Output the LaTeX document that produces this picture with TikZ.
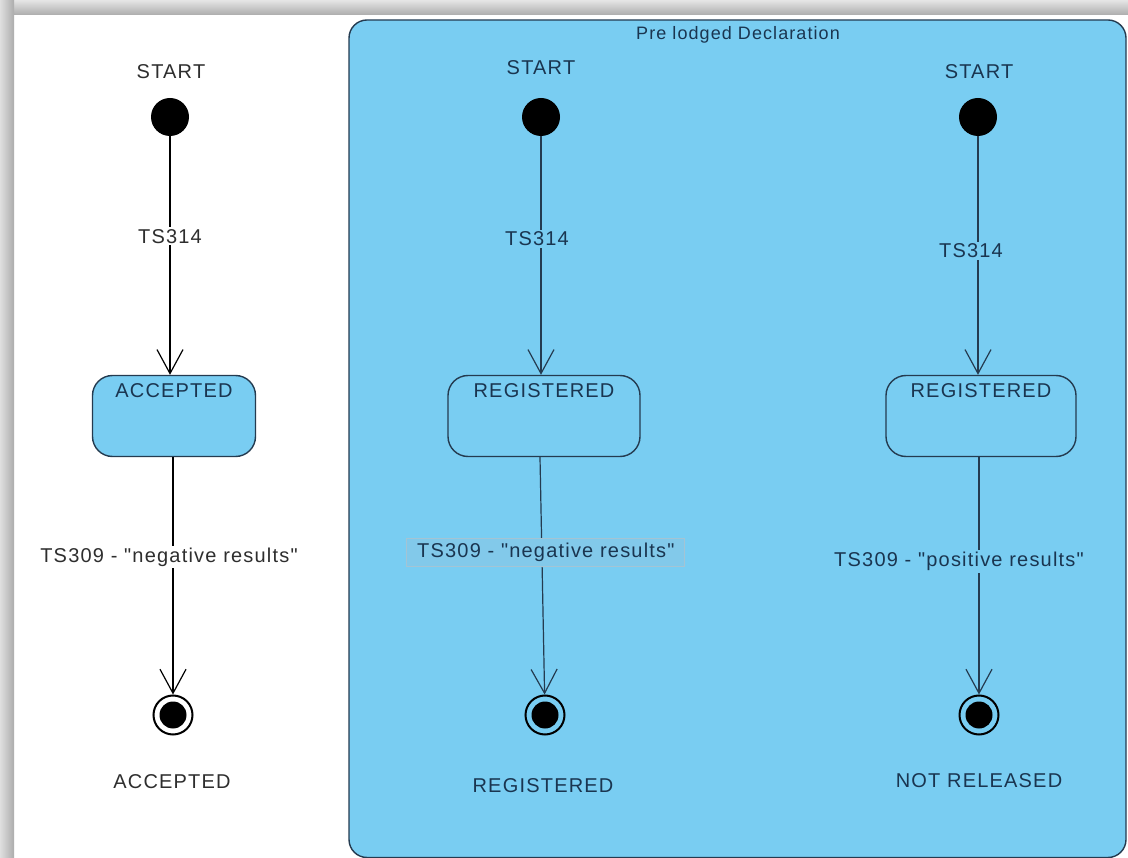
\documentclass[tikz,border=0pt]{standalone}
\usepackage{fontspec}
\newfontfamily\umlfont{Liberation Sans}[LetterSpace=6]
\usetikzlibrary{arrows.meta,shapes.geometric}
\definecolor{umlblue}{HTML}{79CDF2}
\definecolor{lblbox}{HTML}{82C9EA}
\definecolor{lblborder}{HTML}{A4C4D4}
\definecolor{navy}{HTML}{1A3550}
\definecolor{edgeline}{HTML}{243B50}
\definecolor{outtext}{HTML}{2E2E2E}
\tikzset{
  every node/.style={font=\umlfont\fontsize{20}{22}\selectfont},
  startdot/.style={circle, fill=black, minimum size=38pt, inner sep=0pt},
  finaldot/.style={circle, draw=black, line width=2pt, minimum size=39pt, inner sep=0pt,
    path picture={\fill[black] (path picture bounding box.center) circle (13.5pt);}},
  statebox/.style={draw=edgeline, line width=1.4pt, rounded corners=20pt, fill=umlblue,
    minimum width=#1, minimum height=81pt, inner sep=0pt},
  statebox/.default=163pt,
  trans/.style={line width=1.2pt, -{Straight Barb[length=24pt,width=26pt,line width=1.2pt]}},
  lblw/.style={fill=white, text=outtext, inner sep=2pt},
  lblb/.style={fill=umlblue, text=navy, inner sep=2pt},
  plain/.style={text=outtext},
  plainb/.style={text=navy},
}
\begin{document}
\begin{tikzpicture}[x=1pt,y=-1pt]
\useasboundingbox (0,0) rectangle (1128,858);
\fill[white] (0,0) rectangle (1128,858);
% frame shadow
\shade[top color=gray!20, bottom color=gray!65] (0,0) rectangle (1128,15);
\shade[left color=gray!25, right color=gray!65] (0,0) rectangle (14,858);
% container
\draw[fill=umlblue, draw=edgeline, line width=1.4pt, rounded corners=18pt] (349,20) rectangle (1126,857.5);
\node[plainb, font=\umlfont\fontsize{18}{20}\selectfont] (title) at (738,35) {Pre lodged Declaration};

% ---------- left column ----------
\node[plain] (s1l) at (171,72) {START};
\node[startdot] (s1) at (170,117) {};
\node[statebox] (acc) at (174,416) {};
\node[text=navy, anchor=north] (acct) at ([yshift=-5pt]acc.north) {ACCEPTED};
\node[finaldot] (f1) at (173,715) {};
\node[plain] (f1l) at (172,782) {ACCEPTED};
\draw[trans] (s1) -- node[lblw, pos=0.42] (t1a) {TS314} (acc.north -| s1);
\draw[trans] (acc.south -| f1) -- node[lblw, pos=0.42, xshift=-4pt] (t1b) {TS309 - "negative results"} (f1);

% ---------- middle column ----------
\node[plainb] (s2l) at (541,68) {START};
\node[startdot] (s2) at (541,117) {};
\node[statebox=192pt] (reg2) at (544,416) {};
\node[text=navy, anchor=north] (reg2t) at ([yshift=-5pt]reg2.north) {REGISTERED};
\node[finaldot] (f2) at (545,715) {};
\node[plainb] (f2l) at (543,786) {REGISTERED};
\draw[trans, draw=edgeline] (s2) -- node[lblb, pos=0.43, xshift=-4pt] (t2a) {TS314} (reg2.north -| s2);
\draw[trans, draw=edgeline] ([xshift=-4pt]reg2.south) -- node[lblb, pos=0.40, xshift=4pt, fill=lblbox, draw=lblborder, line width=1.2pt, minimum width=278pt, minimum height=28pt] (t2b) {TS309 - "negative results"} (f2);

% ---------- right column ----------
\node[plainb] (s3l) at (979,72) {START};
\node[startdot] (s3) at (978,117) {};
\node[statebox=190pt] (reg3) at (981,416) {};
\node[text=navy, anchor=north] (reg3t) at ([yshift=-5pt]reg3.north) {REGISTERED};
\node[finaldot] (f3) at (979,715) {};
\node[plainb] (f3l) at (979,781) {NOT RELEASED};
\draw[trans, draw=edgeline] (s3) -- node[lblb, pos=0.48, xshift=-7pt] (t3a) {TS314} (reg3.north -| s3);
\draw[trans, draw=edgeline] (reg3.south -| f3) -- node[lblb, pos=0.44, xshift=-20pt] (t3b) {TS309 - "positive results"} (f3);
\end{tikzpicture}
\end{document}
